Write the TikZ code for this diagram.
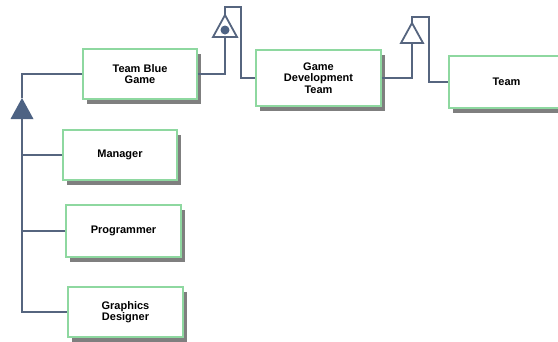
\documentclass[tikz,border=0pt]{standalone}
\usepackage{fontspec}
\setmainfont{Liberation Sans}
\usetikzlibrary{shadows}
\definecolor{linecol}{HTML}{56657F}
\definecolor{trifill}{HTML}{4D6283}
\definecolor{boxedge}{HTML}{8ED8A0}
\definecolor{shadowcol}{HTML}{7F7F7F}
\begin{document}
\begin{tikzpicture}[x=1pt,y=-1pt,
  classbox/.style={draw=boxedge,line width=1.3pt,fill=white,align=center,
    font=\fontsize{11}{11.5}\selectfont\bfseries,inner sep=0pt,
    drop shadow={shadow xshift=4pt,shadow yshift=-5pt,fill=shadowcol,opacity=1}},
  conn/.style={draw=linecol,line width=1.8pt},
  solidtri/.style={fill=trifill},
  opentri/.style={draw=linecol,line width=1.8pt,fill=white,line join=miter}]
\useasboundingbox (0,0) rectangle (558,341);

% classes
\node[classbox,minimum width=114pt,minimum height=50pt] (tbg) at (140,74) {Team Blue\\Game};
\node[classbox,minimum width=125pt,minimum height=56pt] (gdt) at (318.5,78) {Game\\Development\\Team};
\node[classbox,minimum width=115pt,minimum height=52pt] (team) at (506.5,82) {Team};
\node[classbox,minimum width=114pt,minimum height=50pt] (mgr) at (120,155) {Manager};
\node[classbox,minimum width=115pt,minimum height=52pt] (prog) at (123.5,231) {Programmer};
\node[classbox,minimum width=115pt,minimum height=50pt] (gd) at (125.5,312) {Graphics\\Designer};

% generalization of the team roles
\coordinate (g1top) at (22,98);
\coordinate (g1bot) at (22,119);
\fill[solidtri] (g1top) -- ++(11.5,21) -- ++(-23,0) -- cycle;
\draw[conn] (tbg.west) -| (g1top);
\draw[conn] (g1bot) |- (gd.west);
\draw[conn] (mgr.west) -- (mgr.west -| g1bot);
\draw[conn] (prog.west) -- (prog.west -| g1bot);

% Team Blue Game -> Game Development Team
\coordinate (g2top) at (225,15);
\coordinate (g2bot) at (225,37);
\coordinate (g2up) at (225,7);
\coordinate (g2turn) at (241,7);
\draw[conn] (tbg.east) -| (g2bot);
\draw[conn] (g2top) -- (g2up) -- (g2turn) |- (gdt.west);
\draw[opentri] (g2top) -- ++(12,22) -- ++(-24,0) -- cycle;
\fill[trifill] (225,30) circle (4.5pt);

% Game Development Team -> Team
\coordinate (g3top) at (412,23);
\coordinate (g3bot) at (412,43);
\coordinate (g3up) at (412,17);
\coordinate (g3turn) at (429,17);
\draw[conn] (gdt.east) -| (g3bot);
\draw[conn] (g3top) -- (g3up) -- (g3turn) |- (team.west);
\draw[opentri] (g3top) -- ++(11,20) -- ++(-22,0) -- cycle;
\end{tikzpicture}
\end{document}
